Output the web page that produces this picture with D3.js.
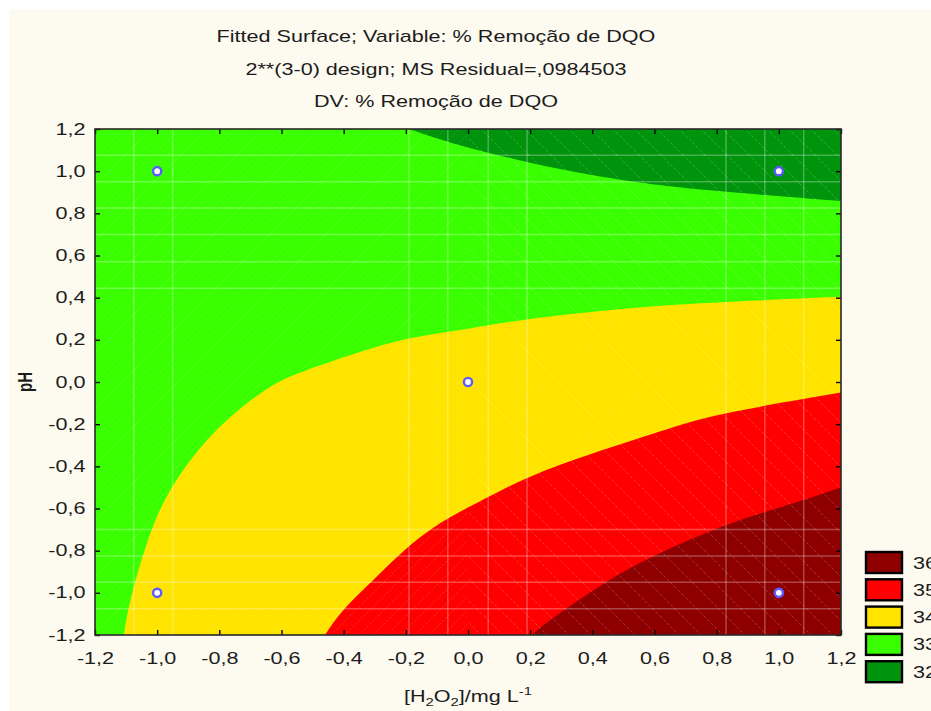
<!DOCTYPE html>
<html lang="pt">
<head>
<meta charset="UTF-8">
<title>Fitted Surface; Variable: % Remoção de DQO</title>
<script src="https://cdn.jsdelivr.net/npm/d3@7"></script>
<style>
	body { margin: 0; background: #fdfaf0; overflow: hidden; }
	svg text { font-family: "Liberation Sans", Arial, sans-serif; fill: #1c1c1c; }
</style>
</head>
<body>
<div id="chart"></div>
<script>
	// tick values, both axes
	const tickValues = [-1.2, -1.0, -0.8, -0.6, -0.4, -0.2, 0.0, 0.2, 0.4, 0.6, 0.8, 1.0, 1.2];

	// design points (coded units)
	const designX = [-1, 1, 0, -1, 1];
	const designY = [1, 1, 0, -1, -1];

	// contour lines, as [H2O2, pH]
	const line32_33 = [[-0.19, 1.2], [-0.026, 1.123], [0.189, 1.044], [0.403, 0.981], [0.617, 0.934], [0.832, 0.902], [1.2, 0.858]];
	const line33_34 = [[-1.107, -1.2], [-1.08, -1.0], [-1.017, -0.70], [-0.937, -0.464], [-0.808, -0.227], [-0.647, -0.033],
		[-0.519, 0.056], [-0.358, 0.137], [-0.186, 0.207], [0.006, 0.254], [0.189, 0.297], [0.51, 0.349], [0.832, 0.38], [1.2, 0.404]];
	const line34_35 = [[-0.46, -1.2], [-0.40, -1.08], [-0.304, -0.938], [-0.197, -0.788], [-0.09, -0.67], [0.006, -0.591],
		[0.189, -0.456], [0.403, -0.338], [0.617, -0.235], [0.832, -0.148], [1.2, -0.05]];
	const line35_36 = [[0.205, -1.2], [0.296, -1.096], [0.457, -0.938], [0.617, -0.812], [0.832, -0.678], [1.046, -0.575], [1.2, -0.499]];

	// legend
	const levelLabels = ["36", "35", "34", "33", "32"];
	const levelColors = ["#8e0000", "#ff0000", "#ffe400", "#3aff00", "#00930c"];

	// faint mesh lines showing through the surface
	const meshX = [-1.075, -0.95, -0.19, -0.065, 0.065, 0.19, 0.83, 0.955, 1.08];
	const meshY = [1.075, 0.95, 0.825, 0.7, 0.57, 0.445, -0.7, -0.825, -0.95, -1.075];

	const W = 931, H = 711;
	const plot = { left: 95, right: 841, top: 129, bottom: 635 };
	const sx = 1.35; // text in the source is stretched sideways

	const svg = d3.select("#chart").append("svg")
		.attr("width", W).attr("height", H);

	svg.append("rect").attr("width", W).attr("height", H).attr("fill", "#ffffff");
	svg.append("rect").attr("x", 9).attr("y", 9).attr("width", W).attr("height", H).attr("fill", "#fdfaf0");

	const x = d3.scaleLinear().domain([-1.2, 1.2]).range([plot.left, plot.right]);
	const y = d3.scaleLinear().domain([-1.2, 1.2]).range([plot.bottom, plot.top]);
	const [x0, x1] = x.domain(), [y0, y1] = y.domain();

	const defs = svg.append("defs");
	defs.append("clipPath").attr("id", "plotClip").append("rect")
		.attr("x", plot.left).attr("y", plot.top)
		.attr("width", plot.right - plot.left).attr("height", plot.bottom - plot.top);

	const hatchL = defs.append("pattern").attr("id", "hatchL")
		.attr("patternUnits", "userSpaceOnUse").attr("width", 14).attr("height", 14);
	hatchL.append("path").attr("d", "M0,14L14,0").attr("stroke", "#fff")
		.attr("stroke-opacity", 0.16).attr("stroke-dasharray", "2,2");
	const hatchR = defs.append("pattern").attr("id", "hatchR")
		.attr("patternUnits", "userSpaceOnUse").attr("width", 22).attr("height", 22);
	hatchR.append("path").attr("d", "M0,0L22,22").attr("stroke", "#fff")
		.attr("stroke-opacity", 0.2).attr("stroke-dasharray", "3,2");

	const surface = svg.append("g").attr("clip-path", "url(#plotClip)");

	const curve = d3.line()
		.x(d => x(d[0])).y(d => y(d[1]))
		.curve(d3.curveNatural);

	// base band (33) fills the whole plot
	surface.append("rect")
		.attr("x", plot.left).attr("y", plot.top)
		.attr("width", plot.right - plot.left).attr("height", plot.bottom - plot.top)
		.attr("fill", levelColors[3]);

	const bands = [
		{ pts: line32_33, corner: [x1, y1], color: levelColors[4] },
		{ pts: line33_34, corner: [x1, y0], color: levelColors[2] },
		{ pts: line34_35, corner: [x1, y0], color: levelColors[1] },
		{ pts: line35_36, corner: [x1, y0], color: levelColors[0] }
	];
	surface.selectAll("path.band").data(bands).enter().append("path")
		.attr("class", "band")
		.attr("d", d => curve(d.pts) + `L${x(d.corner[0])},${y(d.corner[1])}Z`)
		.attr("fill", d => d.color);

	// hatching + mesh
	surface.append("rect").attr("x", plot.left).attr("y", plot.top)
		.attr("width", x(0) - plot.left).attr("height", plot.bottom - plot.top)
		.attr("fill", "url(#hatchL)");
	surface.append("rect").attr("x", x(0)).attr("y", plot.top)
		.attr("width", plot.right - x(0)).attr("height", plot.bottom - plot.top)
		.attr("fill", "url(#hatchR)");

	surface.selectAll("line.mx").data(meshX).enter().append("line")
		.attr("x1", d => x(d)).attr("x2", d => x(d))
		.attr("y1", plot.top).attr("y2", plot.bottom)
		.attr("stroke", "#fff").attr("stroke-opacity", 0.28).attr("stroke-width", 1.5);
	surface.selectAll("line.my").data(meshY).enter().append("line")
		.attr("y1", d => y(d)).attr("y2", d => y(d))
		.attr("x1", plot.left).attr("x2", plot.right)
		.attr("stroke", "#fff").attr("stroke-opacity", 0.28).attr("stroke-width", 1.5);

	// design points
	svg.selectAll("circle.pt").data(designX).enter().append("circle")
		.attr("cx", d => x(d)).attr("cy", (d, i) => y(designY[i]))
		.attr("r", 4.1)
		.attr("fill", "#ffffff").attr("stroke", "#5b5bff").attr("stroke-width", 2.4);

	// axes
	const fmt = d => d3.format(".1f")(d).replace("−", "-").replace(".", ",");

	function styleAxis(g) {
		g.select(".domain").remove();
		g.attr("font-family", null).attr("font-size", 16);
		g.selectAll(".tick line").attr("stroke", "#000").attr("stroke-width", 1.4);
		g.selectAll(".tick text").attr("transform", `scale(${sx},1)`);
	}

	svg.append("g").attr("transform", `translate(0,${plot.bottom})`)
		.call(d3.axisBottom(x).tickValues(tickValues).tickFormat(fmt)
			.tickSizeInner(-5).tickSizeOuter(0).tickPadding(18))
		.call(styleAxis);
	svg.append("g").attr("transform", `translate(${plot.left},0)`)
		.call(d3.axisLeft(y).tickValues(tickValues).tickFormat(fmt)
			.tickSizeInner(-5).tickSizeOuter(0).tickPadding(7))
		.call(styleAxis);
	svg.append("g").attr("transform", `translate(0,${plot.top})`)
		.call(d3.axisTop(x).tickValues(tickValues).tickFormat("")
			.tickSizeInner(-5).tickSizeOuter(0))
		.call(styleAxis);
	svg.append("g").attr("transform", `translate(${plot.right},0)`)
		.call(d3.axisRight(y).tickValues(tickValues).tickFormat("")
			.tickSizeInner(-5).tickSizeOuter(0))
		.call(styleAxis);

	// frame
	svg.append("rect")
		.attr("x", plot.left).attr("y", plot.top)
		.attr("width", plot.right - plot.left).attr("height", plot.bottom - plot.top)
		.attr("fill", "none").attr("stroke", "#2a2a2a").attr("stroke-width", 1.6);

	// titles
	const titles = [
		"Fitted Surface; Variable: % Remoção de DQO",
		"2**(3-0) design; MS Residual=,0984503",
		"DV: % Remoção de DQO"
	];
	svg.selectAll("text.title").data(titles).enter().append("text")
		.attr("class", "title")
		.attr("transform", (d, i) => `translate(436,${42 + i * 32.5}) scale(${sx},1)`)
		.attr("text-anchor", "middle").attr("font-size", 16)
		.text(d => d);

	// axis titles
	const xt = svg.append("text")
		.attr("transform", `translate(${(plot.left + plot.right) / 2},702) scale(${sx},1)`)
		.attr("text-anchor", "middle").attr("font-size", 16);
	xt.append("tspan").text("[H");
	xt.append("tspan").attr("font-size", 11).attr("dy", 4).text("2");
	xt.append("tspan").attr("dy", -4).text("O");
	xt.append("tspan").attr("font-size", 11).attr("dy", 4).text("2");
	xt.append("tspan").attr("dy", -4).text("]/mg L");
	xt.append("tspan").attr("font-size", 11).attr("dy", -7).text("-1");

	svg.append("text")
		.attr("transform", `translate(32,${(plot.top + plot.bottom) / 2}) rotate(-90) scale(1,${sx})`)
		.attr("text-anchor", "middle").attr("font-size", 15).attr("font-weight", "bold")
		.text("pH");

	// legend (labels run off the right edge, as in the source)
	const legend = svg.append("g").attr("transform", "translate(866,552)");
	const item = legend.selectAll("g").data(levelLabels).enter().append("g")
		.attr("transform", (d, i) => `translate(0,${i * 27.3})`);
	item.append("rect")
		.attr("width", 36).attr("height", 21)
		.attr("fill", (d, i) => levelColors[i])
		.attr("stroke", "#000").attr("stroke-width", 2.4);
	item.append("text")
		.attr("transform", `translate(47,16.5) scale(${sx},1)`)
		.attr("font-size", 16).attr("fill", "#1a1a3a")
		.text(d => d);
</script>
</body>
</html>
